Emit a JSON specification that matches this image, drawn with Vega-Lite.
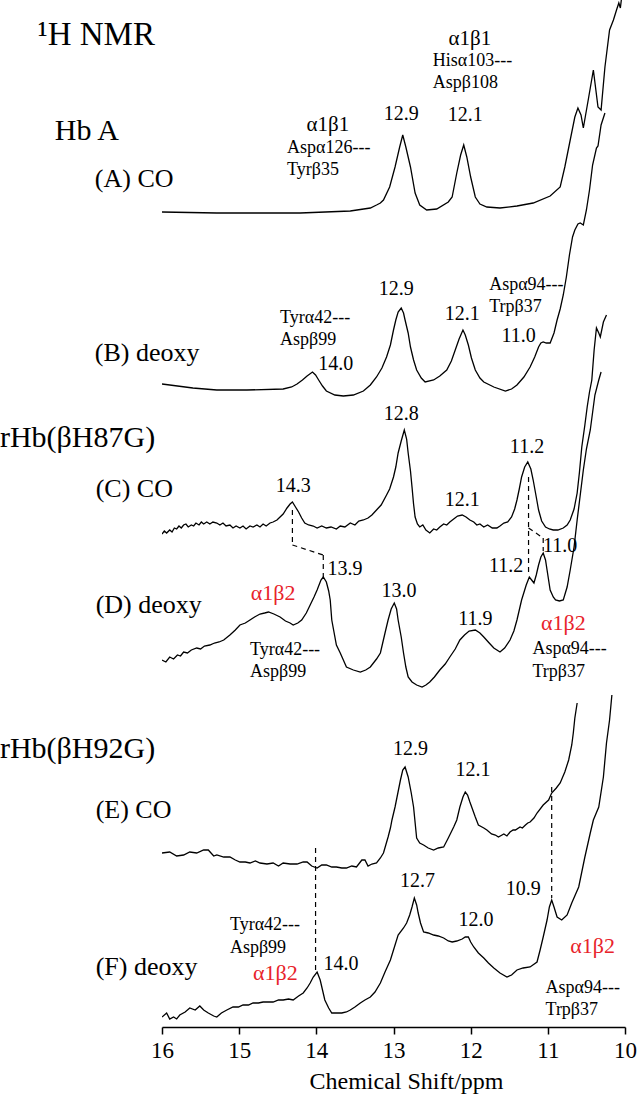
{
"$schema": "https://vega.github.io/schema/vega-lite/v6.json",
"width": 463, "height": 1027,
"autosize": "none",
"padding": {"left": 162, "top": 0, "right": 13, "bottom": 70},
"background": "white",
"config": {"view": {"stroke": null}, "font": "Liberation Serif, Times New Roman, Times, DejaVu Serif, serif"},
"datasets": {
"spectra": [
{"trace":"A","ppm":16.00,"i":815},{"trace":"A","ppm":15.29,"i":814},{"trace":"A","ppm":14.21,"i":814},{"trace":"A","ppm":13.56,"i":816},{"trace":"A","ppm":13.30,"i":819},{"trace":"A","ppm":13.22,"i":822},{"trace":"A","ppm":13.17,"i":824},{"trace":"A","ppm":13.13,"i":827},{"trace":"A","ppm":13.05,"i":840},{"trace":"A","ppm":12.98,"i":860},{"trace":"A","ppm":12.92,"i":880},{"trace":"A","ppm":12.88,"i":892},{"trace":"A","ppm":12.84,"i":880},{"trace":"A","ppm":12.78,"i":860},{"trace":"A","ppm":12.72,"i":834},{"trace":"A","ppm":12.66,"i":822},{"trace":"A","ppm":12.57,"i":817},{"trace":"A","ppm":12.44,"i":818},{"trace":"A","ppm":12.29,"i":825},{"trace":"A","ppm":12.24,"i":830},{"trace":"A","ppm":12.18,"i":854},{"trace":"A","ppm":12.13,"i":872},{"trace":"A","ppm":12.09,"i":882},{"trace":"A","ppm":12.05,"i":870},{"trace":"A","ppm":12.00,"i":850},{"trace":"A","ppm":11.94,"i":830},{"trace":"A","ppm":11.88,"i":823},{"trace":"A","ppm":11.79,"i":820},{"trace":"A","ppm":11.62,"i":819},{"trace":"A","ppm":11.40,"i":821},{"trace":"A","ppm":11.19,"i":824},{"trace":"A","ppm":10.97,"i":831},{"trace":"A","ppm":10.84,"i":840},{"trace":"A","ppm":10.78,"i":860},{"trace":"A","ppm":10.71,"i":887},{"trace":"A","ppm":10.65,"i":910},{"trace":"A","ppm":10.61,"i":919},{"trace":"A","ppm":10.57,"i":912},{"trace":"A","ppm":10.54,"i":899},{"trace":"A","ppm":10.47,"i":930},{"trace":"A","ppm":10.41,"i":957},{"trace":"A","ppm":10.35,"i":920},{"trace":"A","ppm":10.31,"i":917},{"trace":"A","ppm":10.26,"i":960},{"trace":"A","ppm":10.20,"i":997},{"trace":"A","ppm":10.15,"i":1007},{"trace":"A","ppm":10.11,"i":1017},{"trace":"A","ppm":10.08,"i":1024},{"trace":"A","ppm":10.06,"i":1019},{"trace":"A","ppm":10.04,"i":1032},

{"trace":"B","ppm":16.00,"i":643},{"trace":"B","ppm":15.60,"i":639},{"trace":"B","ppm":15.29,"i":637},{"trace":"B","ppm":14.90,"i":637},{"trace":"B","ppm":14.43,"i":638},{"trace":"B","ppm":14.32,"i":640},{"trace":"B","ppm":14.25,"i":643},{"trace":"B","ppm":14.18,"i":647},{"trace":"B","ppm":14.12,"i":651},{"trace":"B","ppm":14.05,"i":655},{"trace":"B","ppm":14.01,"i":652},{"trace":"B","ppm":13.97,"i":647},{"trace":"B","ppm":13.92,"i":641},{"trace":"B","ppm":13.87,"i":636},{"trace":"B","ppm":13.76,"i":632},{"trace":"B","ppm":13.65,"i":631},{"trace":"B","ppm":13.52,"i":632},{"trace":"B","ppm":13.39,"i":636},{"trace":"B","ppm":13.30,"i":642},{"trace":"B","ppm":13.22,"i":650},{"trace":"B","ppm":13.15,"i":659},{"trace":"B","ppm":13.09,"i":670},{"trace":"B","ppm":13.04,"i":682},{"trace":"B","ppm":13.00,"i":697},{"trace":"B","ppm":12.97,"i":707},{"trace":"B","ppm":12.94,"i":715},{"trace":"B","ppm":12.90,"i":719},{"trace":"B","ppm":12.87,"i":714},{"trace":"B","ppm":12.85,"i":707},{"trace":"B","ppm":12.81,"i":694},{"trace":"B","ppm":12.78,"i":680},{"trace":"B","ppm":12.74,"i":667},{"trace":"B","ppm":12.70,"i":657},{"trace":"B","ppm":12.64,"i":649},{"trace":"B","ppm":12.59,"i":645},{"trace":"B","ppm":12.48,"i":647},{"trace":"B","ppm":12.40,"i":651},{"trace":"B","ppm":12.31,"i":657},{"trace":"B","ppm":12.25,"i":666},{"trace":"B","ppm":12.20,"i":677},{"trace":"B","ppm":12.15,"i":688},{"trace":"B","ppm":12.10,"i":697},{"trace":"B","ppm":12.07,"i":692},{"trace":"B","ppm":12.03,"i":682},{"trace":"B","ppm":11.99,"i":669},{"trace":"B","ppm":11.94,"i":657},{"trace":"B","ppm":11.88,"i":649},{"trace":"B","ppm":11.83,"i":645},{"trace":"B","ppm":11.70,"i":640},{"trace":"B","ppm":11.55,"i":636},{"trace":"B","ppm":11.47,"i":638},{"trace":"B","ppm":11.40,"i":642},{"trace":"B","ppm":11.31,"i":650},{"trace":"B","ppm":11.23,"i":660},{"trace":"B","ppm":11.17,"i":670},{"trace":"B","ppm":11.12,"i":680},{"trace":"B","ppm":11.09,"i":684},{"trace":"B","ppm":11.06,"i":685},{"trace":"B","ppm":11.02,"i":684},{"trace":"B","ppm":10.97,"i":684},{"trace":"B","ppm":10.92,"i":694},{"trace":"B","ppm":10.88,"i":707},{"trace":"B","ppm":10.84,"i":718},{"trace":"B","ppm":10.80,"i":732},{"trace":"B","ppm":10.76,"i":750},{"trace":"B","ppm":10.72,"i":772},{"trace":"B","ppm":10.68,"i":790},{"trace":"B","ppm":10.65,"i":797},{"trace":"B","ppm":10.61,"i":803},{"trace":"B","ppm":10.58,"i":804},{"trace":"B","ppm":10.54,"i":802},{"trace":"B","ppm":10.50,"i":817},{"trace":"B","ppm":10.46,"i":837},{"trace":"B","ppm":10.42,"i":862},{"trace":"B","ppm":10.37,"i":879},{"trace":"B","ppm":10.35,"i":881},{"trace":"B","ppm":10.31,"i":902},{"trace":"B","ppm":10.26,"i":914},

{"trace":"C","ppm":16.00,"i":493},{"trace":"C","ppm":15.97,"i":496},{"trace":"C","ppm":15.94,"i":494},{"trace":"C","ppm":15.90,"i":497},{"trace":"C","ppm":15.87,"i":495},{"trace":"C","ppm":15.84,"i":499},{"trace":"C","ppm":15.81,"i":498},{"trace":"C","ppm":15.78,"i":501},{"trace":"C","ppm":15.75,"i":499},{"trace":"C","ppm":15.72,"i":502},{"trace":"C","ppm":15.69,"i":503},{"trace":"C","ppm":15.66,"i":500},{"trace":"C","ppm":15.62,"i":502},{"trace":"C","ppm":15.59,"i":501},{"trace":"C","ppm":15.56,"i":504},{"trace":"C","ppm":15.52,"i":502},{"trace":"C","ppm":15.49,"i":505},{"trace":"C","ppm":15.46,"i":503},{"trace":"C","ppm":15.42,"i":505},{"trace":"C","ppm":15.38,"i":503},{"trace":"C","ppm":15.34,"i":505},{"trace":"C","ppm":15.29,"i":504},{"trace":"C","ppm":15.25,"i":502},{"trace":"C","ppm":15.21,"i":504},{"trace":"C","ppm":15.17,"i":501},{"trace":"C","ppm":15.12,"i":502},{"trace":"C","ppm":15.08,"i":499},{"trace":"C","ppm":15.04,"i":501},{"trace":"C","ppm":14.99,"i":499},{"trace":"C","ppm":14.95,"i":501},{"trace":"C","ppm":14.91,"i":498},{"trace":"C","ppm":14.86,"i":501},{"trace":"C","ppm":14.82,"i":500},{"trace":"C","ppm":14.77,"i":502},{"trace":"C","ppm":14.73,"i":500},{"trace":"C","ppm":14.69,"i":503},{"trace":"C","ppm":14.65,"i":501},{"trace":"C","ppm":14.60,"i":504},{"trace":"C","ppm":14.56,"i":505},{"trace":"C","ppm":14.51,"i":507},{"trace":"C","ppm":14.47,"i":510},{"trace":"C","ppm":14.43,"i":513},{"trace":"C","ppm":14.38,"i":519},{"trace":"C","ppm":14.34,"i":523},{"trace":"C","ppm":14.31,"i":525},{"trace":"C","ppm":14.27,"i":520},{"trace":"C","ppm":14.23,"i":515},{"trace":"C","ppm":14.19,"i":509},{"trace":"C","ppm":14.15,"i":504},{"trace":"C","ppm":14.10,"i":502},{"trace":"C","ppm":14.04,"i":501},{"trace":"C","ppm":13.99,"i":499},{"trace":"C","ppm":13.93,"i":501},{"trace":"C","ppm":13.87,"i":499},{"trace":"C","ppm":13.81,"i":500},{"trace":"C","ppm":13.74,"i":498},{"trace":"C","ppm":13.69,"i":501},{"trace":"C","ppm":13.63,"i":500},{"trace":"C","ppm":13.56,"i":504},{"trace":"C","ppm":13.50,"i":502},{"trace":"C","ppm":13.45,"i":506},{"trace":"C","ppm":13.39,"i":507},{"trace":"C","ppm":13.33,"i":509},{"trace":"C","ppm":13.28,"i":512},{"trace":"C","ppm":13.22,"i":517},{"trace":"C","ppm":13.16,"i":522},{"trace":"C","ppm":13.09,"i":532},{"trace":"C","ppm":13.05,"i":538},{"trace":"C","ppm":13.00,"i":550},{"trace":"C","ppm":12.97,"i":560},{"trace":"C","ppm":12.94,"i":574},{"trace":"C","ppm":12.90,"i":586},{"trace":"C","ppm":12.86,"i":597},{"trace":"C","ppm":12.83,"i":588},{"trace":"C","ppm":12.81,"i":574},{"trace":"C","ppm":12.78,"i":556},{"trace":"C","ppm":12.76,"i":540},{"trace":"C","ppm":12.74,"i":523},{"trace":"C","ppm":12.72,"i":510},{"trace":"C","ppm":12.69,"i":503},{"trace":"C","ppm":12.66,"i":500},{"trace":"C","ppm":12.62,"i":502},{"trace":"C","ppm":12.58,"i":497},{"trace":"C","ppm":12.53,"i":494},{"trace":"C","ppm":12.48,"i":498},{"trace":"C","ppm":12.44,"i":497},{"trace":"C","ppm":12.40,"i":500},{"trace":"C","ppm":12.35,"i":503},{"trace":"C","ppm":12.31,"i":502},{"trace":"C","ppm":12.27,"i":505},{"trace":"C","ppm":12.22,"i":508},{"trace":"C","ppm":12.17,"i":511},{"trace":"C","ppm":12.11,"i":512},{"trace":"C","ppm":12.06,"i":510},{"trace":"C","ppm":12.01,"i":507},{"trace":"C","ppm":11.96,"i":505},{"trace":"C","ppm":11.92,"i":502},{"trace":"C","ppm":11.88,"i":503},{"trace":"C","ppm":11.83,"i":500},{"trace":"C","ppm":11.78,"i":502},{"trace":"C","ppm":11.72,"i":499},{"trace":"C","ppm":11.66,"i":499},{"trace":"C","ppm":11.62,"i":501},{"trace":"C","ppm":11.57,"i":504},{"trace":"C","ppm":11.52,"i":505},{"trace":"C","ppm":11.47,"i":510},{"trace":"C","ppm":11.43,"i":518},{"trace":"C","ppm":11.40,"i":527},{"trace":"C","ppm":11.37,"i":538},{"trace":"C","ppm":11.34,"i":550},{"trace":"C","ppm":11.30,"i":560},{"trace":"C","ppm":11.26,"i":565},{"trace":"C","ppm":11.22,"i":558},{"trace":"C","ppm":11.19,"i":547},{"trace":"C","ppm":11.15,"i":530},{"trace":"C","ppm":11.12,"i":517},{"trace":"C","ppm":11.08,"i":506},{"trace":"C","ppm":11.03,"i":500},{"trace":"C","ppm":10.98,"i":498},{"trace":"C","ppm":10.93,"i":497},{"trace":"C","ppm":10.87,"i":497},{"trace":"C","ppm":10.80,"i":499},{"trace":"C","ppm":10.75,"i":502},{"trace":"C","ppm":10.71,"i":507},{"trace":"C","ppm":10.66,"i":518},{"trace":"C","ppm":10.62,"i":534},{"trace":"C","ppm":10.59,"i":555},{"trace":"C","ppm":10.56,"i":580},{"trace":"C","ppm":10.52,"i":602},{"trace":"C","ppm":10.49,"i":620},{"trace":"C","ppm":10.46,"i":635},{"trace":"C","ppm":10.43,"i":647},{"trace":"C","ppm":10.40,"i":677},{"trace":"C","ppm":10.37,"i":699},{"trace":"C","ppm":10.34,"i":694},{"trace":"C","ppm":10.32,"i":690},{"trace":"C","ppm":10.28,"i":705},{"trace":"C","ppm":10.24,"i":712},

{"trace":"D","ppm":16.00,"i":367},{"trace":"D","ppm":15.95,"i":365},{"trace":"D","ppm":15.90,"i":370},{"trace":"D","ppm":15.85,"i":368},{"trace":"D","ppm":15.80,"i":372},{"trace":"D","ppm":15.76,"i":371},{"trace":"D","ppm":15.72,"i":375},{"trace":"D","ppm":15.67,"i":374},{"trace":"D","ppm":15.62,"i":377},{"trace":"D","ppm":15.55,"i":379},{"trace":"D","ppm":15.50,"i":378},{"trace":"D","ppm":15.45,"i":381},{"trace":"D","ppm":15.38,"i":382},{"trace":"D","ppm":15.32,"i":384},{"trace":"D","ppm":15.26,"i":385},{"trace":"D","ppm":15.20,"i":387},{"trace":"D","ppm":15.12,"i":392},{"trace":"D","ppm":15.05,"i":397},{"trace":"D","ppm":14.99,"i":402},{"trace":"D","ppm":14.92,"i":404},{"trace":"D","ppm":14.86,"i":407},{"trace":"D","ppm":14.80,"i":410},{"trace":"D","ppm":14.73,"i":413},{"trace":"D","ppm":14.67,"i":414},{"trace":"D","ppm":14.62,"i":415},{"trace":"D","ppm":14.55,"i":413},{"trace":"D","ppm":14.47,"i":410},{"trace":"D","ppm":14.40,"i":406},{"trace":"D","ppm":14.34,"i":404},{"trace":"D","ppm":14.30,"i":402},{"trace":"D","ppm":14.24,"i":404},{"trace":"D","ppm":14.19,"i":407},{"trace":"D","ppm":14.13,"i":414},{"trace":"D","ppm":14.08,"i":422},{"trace":"D","ppm":14.03,"i":430},{"trace":"D","ppm":13.99,"i":437},{"trace":"D","ppm":13.94,"i":447},{"trace":"D","ppm":13.91,"i":450},{"trace":"D","ppm":13.87,"i":445},{"trace":"D","ppm":13.84,"i":436},{"trace":"D","ppm":13.82,"i":427},{"trace":"D","ppm":13.80,"i":407},{"trace":"D","ppm":13.74,"i":382},{"trace":"D","ppm":13.69,"i":374},{"trace":"D","ppm":13.61,"i":360},{"trace":"D","ppm":13.52,"i":357},{"trace":"D","ppm":13.43,"i":355},{"trace":"D","ppm":13.36,"i":357},{"trace":"D","ppm":13.30,"i":360},{"trace":"D","ppm":13.22,"i":368},{"trace":"D","ppm":13.17,"i":374},{"trace":"D","ppm":13.11,"i":394},{"trace":"D","ppm":13.07,"i":407},{"trace":"D","ppm":13.03,"i":418},{"trace":"D","ppm":12.99,"i":424},{"trace":"D","ppm":12.96,"i":418},{"trace":"D","ppm":12.94,"i":407},{"trace":"D","ppm":12.90,"i":390},{"trace":"D","ppm":12.87,"i":374},{"trace":"D","ppm":12.84,"i":360},{"trace":"D","ppm":12.81,"i":350},{"trace":"D","ppm":12.76,"i":345},{"trace":"D","ppm":12.70,"i":342},{"trace":"D","ppm":12.63,"i":340},{"trace":"D","ppm":12.58,"i":342},{"trace":"D","ppm":12.53,"i":345},{"trace":"D","ppm":12.47,"i":350},{"trace":"D","ppm":12.40,"i":357},{"trace":"D","ppm":12.33,"i":363},{"trace":"D","ppm":12.27,"i":370},{"trace":"D","ppm":12.20,"i":378},{"trace":"D","ppm":12.14,"i":387},{"trace":"D","ppm":12.08,"i":392},{"trace":"D","ppm":12.02,"i":396},{"trace":"D","ppm":11.94,"i":397},{"trace":"D","ppm":11.88,"i":394},{"trace":"D","ppm":11.83,"i":390},{"trace":"D","ppm":11.76,"i":384},{"trace":"D","ppm":11.70,"i":379},{"trace":"D","ppm":11.62,"i":375},{"trace":"D","ppm":11.56,"i":379},{"trace":"D","ppm":11.49,"i":387},{"trace":"D","ppm":11.44,"i":396},{"trace":"D","ppm":11.40,"i":407},{"trace":"D","ppm":11.34,"i":427},{"trace":"D","ppm":11.28,"i":442},{"trace":"D","ppm":11.24,"i":450},{"trace":"D","ppm":11.21,"i":447},{"trace":"D","ppm":11.18,"i":444},{"trace":"D","ppm":11.15,"i":452},{"trace":"D","ppm":11.12,"i":462},{"trace":"D","ppm":11.09,"i":470},{"trace":"D","ppm":11.06,"i":474},{"trace":"D","ppm":11.03,"i":467},{"trace":"D","ppm":11.01,"i":457},{"trace":"D","ppm":10.97,"i":437},{"trace":"D","ppm":10.93,"i":430},{"trace":"D","ppm":10.90,"i":427},{"trace":"D","ppm":10.85,"i":426},{"trace":"D","ppm":10.80,"i":427},{"trace":"D","ppm":10.75,"i":440},{"trace":"D","ppm":10.71,"i":457},{"trace":"D","ppm":10.66,"i":480},{"trace":"D","ppm":10.62,"i":507},{"trace":"D","ppm":10.58,"i":532},{"trace":"D","ppm":10.54,"i":557},{"trace":"D","ppm":10.50,"i":578},{"trace":"D","ppm":10.45,"i":597},{"trace":"D","ppm":10.39,"i":632},{"trace":"D","ppm":10.34,"i":647},{"trace":"D","ppm":10.31,"i":655},

{"trace":"E","ppm":16.00,"i":174},{"trace":"E","ppm":15.90,"i":175},{"trace":"E","ppm":15.81,"i":171},{"trace":"E","ppm":15.72,"i":172},{"trace":"E","ppm":15.64,"i":175},{"trace":"E","ppm":15.55,"i":174},{"trace":"E","ppm":15.46,"i":177},{"trace":"E","ppm":15.40,"i":177},{"trace":"E","ppm":15.33,"i":171},{"trace":"E","ppm":15.29,"i":172},{"trace":"E","ppm":15.20,"i":170},{"trace":"E","ppm":15.12,"i":170},{"trace":"E","ppm":15.05,"i":167},{"trace":"E","ppm":14.99,"i":165},{"trace":"E","ppm":14.92,"i":165},{"trace":"E","ppm":14.86,"i":164},{"trace":"E","ppm":14.79,"i":166},{"trace":"E","ppm":14.73,"i":164},{"trace":"E","ppm":14.64,"i":163},{"trace":"E","ppm":14.56,"i":164},{"trace":"E","ppm":14.49,"i":161},{"trace":"E","ppm":14.43,"i":164},{"trace":"E","ppm":14.34,"i":163},{"trace":"E","ppm":14.25,"i":163},{"trace":"E","ppm":14.17,"i":165},{"trace":"E","ppm":14.12,"i":165},{"trace":"E","ppm":14.06,"i":161},{"trace":"E","ppm":13.99,"i":159},{"trace":"E","ppm":13.93,"i":162},{"trace":"E","ppm":13.87,"i":162},{"trace":"E","ppm":13.80,"i":160},{"trace":"E","ppm":13.74,"i":160},{"trace":"E","ppm":13.67,"i":159},{"trace":"E","ppm":13.61,"i":159},{"trace":"E","ppm":13.54,"i":161},{"trace":"E","ppm":13.48,"i":160},{"trace":"E","ppm":13.41,"i":167},{"trace":"E","ppm":13.37,"i":167},{"trace":"E","ppm":13.33,"i":161},{"trace":"E","ppm":13.28,"i":163},{"trace":"E","ppm":13.22,"i":164},{"trace":"E","ppm":13.17,"i":169},{"trace":"E","ppm":13.13,"i":174},{"trace":"E","ppm":13.10,"i":182},{"trace":"E","ppm":13.07,"i":190},{"trace":"E","ppm":13.04,"i":199},{"trace":"E","ppm":13.02,"i":207},{"trace":"E","ppm":12.98,"i":220},{"trace":"E","ppm":12.91,"i":247},{"trace":"E","ppm":12.88,"i":257},{"trace":"E","ppm":12.85,"i":260},{"trace":"E","ppm":12.81,"i":250},{"trace":"E","ppm":12.77,"i":234},{"trace":"E","ppm":12.74,"i":220},{"trace":"E","ppm":12.70,"i":189},{"trace":"E","ppm":12.66,"i":184},{"trace":"E","ppm":12.61,"i":182},{"trace":"E","ppm":12.55,"i":179},{"trace":"E","ppm":12.48,"i":177},{"trace":"E","ppm":12.42,"i":179},{"trace":"E","ppm":12.35,"i":180},{"trace":"E","ppm":12.29,"i":189},{"trace":"E","ppm":12.22,"i":200},{"trace":"E","ppm":12.18,"i":207},{"trace":"E","ppm":12.14,"i":220},{"trace":"E","ppm":12.10,"i":230},{"trace":"E","ppm":12.07,"i":235},{"trace":"E","ppm":12.04,"i":232},{"trace":"E","ppm":12.01,"i":225},{"trace":"E","ppm":11.94,"i":210},{"trace":"E","ppm":11.90,"i":202},{"trace":"E","ppm":11.83,"i":199},{"trace":"E","ppm":11.79,"i":197},{"trace":"E","ppm":11.73,"i":193},{"trace":"E","ppm":11.68,"i":192},{"trace":"E","ppm":11.64,"i":190},{"trace":"E","ppm":11.57,"i":193},{"trace":"E","ppm":11.53,"i":191},{"trace":"E","ppm":11.49,"i":195},{"trace":"E","ppm":11.45,"i":197},{"trace":"E","ppm":11.42,"i":197},{"trace":"E","ppm":11.36,"i":200},{"trace":"E","ppm":11.33,"i":199},{"trace":"E","ppm":11.29,"i":202},{"trace":"E","ppm":11.26,"i":204},{"trace":"E","ppm":11.23,"i":205},{"trace":"E","ppm":11.18,"i":209},{"trace":"E","ppm":11.14,"i":214},{"trace":"E","ppm":11.06,"i":222},{"trace":"E","ppm":10.99,"i":227},{"trace":"E","ppm":10.95,"i":234},{"trace":"E","ppm":10.89,"i":239},{"trace":"E","ppm":10.84,"i":244},{"trace":"E","ppm":10.78,"i":255},{"trace":"E","ppm":10.73,"i":267},{"trace":"E","ppm":10.69,"i":282},{"trace":"E","ppm":10.67,"i":294},{"trace":"E","ppm":10.65,"i":309},{"trace":"E","ppm":10.62,"i":324},

{"trace":"F","ppm":16.00,"i":10},{"trace":"F","ppm":15.94,"i":14},{"trace":"F","ppm":15.90,"i":8},{"trace":"F","ppm":15.85,"i":10},{"trace":"F","ppm":15.81,"i":8},{"trace":"F","ppm":15.77,"i":12},{"trace":"F","ppm":15.70,"i":15},{"trace":"F","ppm":15.64,"i":19},{"trace":"F","ppm":15.57,"i":17},{"trace":"F","ppm":15.51,"i":21},{"trace":"F","ppm":15.46,"i":17},{"trace":"F","ppm":15.40,"i":14},{"trace":"F","ppm":15.33,"i":11},{"trace":"F","ppm":15.29,"i":10},{"trace":"F","ppm":15.23,"i":14},{"trace":"F","ppm":15.16,"i":17},{"trace":"F","ppm":15.08,"i":20},{"trace":"F","ppm":15.01,"i":20},{"trace":"F","ppm":14.95,"i":22},{"trace":"F","ppm":14.88,"i":22},{"trace":"F","ppm":14.82,"i":24},{"trace":"F","ppm":14.75,"i":24},{"trace":"F","ppm":14.69,"i":25},{"trace":"F","ppm":14.62,"i":25},{"trace":"F","ppm":14.56,"i":25},{"trace":"F","ppm":14.49,"i":27},{"trace":"F","ppm":14.43,"i":27},{"trace":"F","ppm":14.36,"i":28},{"trace":"F","ppm":14.30,"i":27},{"trace":"F","ppm":14.23,"i":31},{"trace":"F","ppm":14.17,"i":34},{"trace":"F","ppm":14.12,"i":39},{"trace":"F","ppm":14.08,"i":44},{"trace":"F","ppm":14.04,"i":50},{"trace":"F","ppm":13.99,"i":55},{"trace":"F","ppm":13.95,"i":47},{"trace":"F","ppm":13.92,"i":37},{"trace":"F","ppm":13.89,"i":27},{"trace":"F","ppm":13.84,"i":19},{"trace":"F","ppm":13.80,"i":14},{"trace":"F","ppm":13.74,"i":14},{"trace":"F","ppm":13.67,"i":14},{"trace":"F","ppm":13.61,"i":15},{"trace":"F","ppm":13.56,"i":17},{"trace":"F","ppm":13.50,"i":20},{"trace":"F","ppm":13.43,"i":24},{"trace":"F","ppm":13.37,"i":27},{"trace":"F","ppm":13.30,"i":30},{"trace":"F","ppm":13.24,"i":35},{"trace":"F","ppm":13.17,"i":44},{"trace":"F","ppm":13.11,"i":55},{"trace":"F","ppm":13.04,"i":67},{"trace":"F","ppm":13.00,"i":77},{"trace":"F","ppm":12.94,"i":92},{"trace":"F","ppm":12.87,"i":99},{"trace":"F","ppm":12.83,"i":104},{"trace":"F","ppm":12.79,"i":112},{"trace":"F","ppm":12.76,"i":120},{"trace":"F","ppm":12.73,"i":129},{"trace":"F","ppm":12.70,"i":122},{"trace":"F","ppm":12.68,"i":114},{"trace":"F","ppm":12.65,"i":104},{"trace":"F","ppm":12.61,"i":95},{"trace":"F","ppm":12.55,"i":94},{"trace":"F","ppm":12.48,"i":92},{"trace":"F","ppm":12.42,"i":91},{"trace":"F","ppm":12.35,"i":89},{"trace":"F","ppm":12.29,"i":86},{"trace":"F","ppm":12.24,"i":85},{"trace":"F","ppm":12.18,"i":86},{"trace":"F","ppm":12.11,"i":88},{"trace":"F","ppm":12.07,"i":90},{"trace":"F","ppm":12.03,"i":90},{"trace":"F","ppm":12.00,"i":85},{"trace":"F","ppm":11.96,"i":80},{"trace":"F","ppm":11.90,"i":74},{"trace":"F","ppm":11.83,"i":69},{"trace":"F","ppm":11.77,"i":64},{"trace":"F","ppm":11.70,"i":59},{"trace":"F","ppm":11.62,"i":54},{"trace":"F","ppm":11.53,"i":50},{"trace":"F","ppm":11.47,"i":52},{"trace":"F","ppm":11.40,"i":57},{"trace":"F","ppm":11.32,"i":59},{"trace":"F","ppm":11.23,"i":60},{"trace":"F","ppm":11.14,"i":65},{"trace":"F","ppm":11.10,"i":77},{"trace":"F","ppm":11.06,"i":90},{"trace":"F","ppm":11.01,"i":107},{"trace":"F","ppm":10.98,"i":120},{"trace":"F","ppm":10.95,"i":127},{"trace":"F","ppm":10.92,"i":120},{"trace":"F","ppm":10.88,"i":110},{"trace":"F","ppm":10.82,"i":107},{"trace":"F","ppm":10.75,"i":112},{"trace":"F","ppm":10.69,"i":124},{"trace":"F","ppm":10.60,"i":140},{"trace":"F","ppm":10.52,"i":170},{"trace":"F","ppm":10.45,"i":194},{"trace":"F","ppm":10.41,"i":207},{"trace":"F","ppm":10.34,"i":220},{"trace":"F","ppm":10.28,"i":250},{"trace":"F","ppm":10.24,"i":284},{"trace":"F","ppm":10.20,"i":307},{"trace":"F","ppm":10.17,"i":332}
],
"dashes": [
{"ppm":14.31,"y":517,"ppm2":14.31,"y2":482},
{"ppm":14.31,"y":482,"ppm2":13.91,"y2":472},
{"ppm":13.91,"y":472,"ppm2":13.91,"y2":450},
{"ppm":11.25,"y":550,"ppm2":11.25,"y2":451},
{"ppm":11.25,"y":499,"ppm2":11.06,"y2":489},
{"ppm":11.06,"y":489,"ppm2":11.06,"y2":476},
{"ppm":14.01,"y":179,"ppm2":14.01,"y2":57},
{"ppm":10.95,"y":240,"ppm2":10.95,"y2":129}
],
"labels": [
{"kind":"title","text":"¹H NMR","ppm":17.61,"y":982},
{"kind":"group","text":"Hb A","ppm":17.39,"y":887},
{"kind":"group","text":"rHb(βH87G)","ppm":18.10,"y":580},
{"kind":"group","text":"rHb(βH92G)","ppm":18.10,"y":269},
{"kind":"panel","text":"(A)  CO","ppm":16.87,"y":840},
{"kind":"panel","text":"(B)  deoxy","ppm":16.87,"y":666},
{"kind":"panel","text":"(C)  CO","ppm":16.86,"y":530},
{"kind":"panel","text":"(D)  deoxy","ppm":16.86,"y":414},
{"kind":"panel","text":"(E)  CO","ppm":16.86,"y":209},
{"kind":"panel","text":"(F)  deoxy","ppm":16.86,"y":52},
{"kind":"shift","text":"12.9","ppm":12.90,"y":907},
{"kind":"shift","text":"12.1","ppm":12.07,"y":906},
{"kind":"shift","text":"12.9","ppm":12.965,"y":732},
{"kind":"shift","text":"14.0","ppm":13.75,"y":657},
{"kind":"shift","text":"12.1","ppm":12.11,"y":707},
{"kind":"shift","text":"11.0","ppm":11.38,"y":685},
{"kind":"shift","text":"14.3","ppm":14.30,"y":535},
{"kind":"shift","text":"12.8","ppm":12.90,"y":607},
{"kind":"shift","text":"12.1","ppm":12.11,"y":521},
{"kind":"shift","text":"11.2","ppm":11.27,"y":574},
{"kind":"shift","text":"13.9","ppm":13.63,"y":452},
{"kind":"shift","text":"13.0","ppm":12.93,"y":430},
{"kind":"shift","text":"11.9","ppm":11.94,"y":402},
{"kind":"shift","text":"11.2","ppm":11.54,"y":455},
{"kind":"shift","text":"11.0","ppm":10.84,"y":475},
{"kind":"shift","text":"12.9","ppm":12.78,"y":272},
{"kind":"shift","text":"12.1","ppm":11.97,"y":251},
{"kind":"shift","text":"12.7","ppm":12.69,"y":140},
{"kind":"shift","text":"12.0","ppm":11.93,"y":101},
{"kind":"shift","text":"10.9","ppm":11.32,"y":132},
{"kind":"shift","text":"14.0","ppm":13.68,"y":57},
{"kind":"site","text":"α1β1","ppm":13.85,"y":896},
{"kind":"site","text":"α1β1","ppm":12.01,"y":982},
{"kind":"interface","text":"α1β2","ppm":14.56,"y":427},
{"kind":"interface","text":"α1β2","ppm":10.80,"y":397},
{"kind":"interface","text":"α1β2","ppm":14.53,"y":47},
{"kind":"interface","text":"α1β2","ppm":10.42,"y":74},
{"kind":"pair","text":"Aspα126---","ppm":14.38,"y":874},
{"kind":"pair","text":"Tyrβ35","ppm":14.38,"y":852},
{"kind":"pair","text":"Hisα103---","ppm":12.49,"y":961},
{"kind":"pair","text":"Aspβ108","ppm":12.49,"y":939},
{"kind":"pair","text":"Tyrα42---","ppm":14.47,"y":704},
{"kind":"pair","text":"Aspβ99","ppm":14.47,"y":682},
{"kind":"pair","text":"Aspα94---","ppm":11.76,"y":737},
{"kind":"pair","text":"Trpβ37","ppm":11.76,"y":715},
{"kind":"pair","text":"Tyrα42---","ppm":14.86,"y":372},
{"kind":"pair","text":"Aspβ99","ppm":14.86,"y":350},
{"kind":"pair","text":"Aspα94---","ppm":11.20,"y":373},
{"kind":"pair","text":"Trpβ37","ppm":11.20,"y":350},
{"kind":"pair","text":"Tyrα42---","ppm":15.12,"y":97},
{"kind":"pair","text":"Aspβ99","ppm":15.12,"y":74},
{"kind":"pair","text":"Aspα94---","ppm":11.03,"y":34},
{"kind":"pair","text":"Trpβ37","ppm":11.03,"y":12}
]
},
"layer": [
{
"data": {"name": "spectra"},
"mark": {"type": "line", "color": "black", "strokeWidth": 1.3, "clip": true},
"encoding": {
"x": {"field": "ppm", "type": "quantitative",
"scale": {"domain": [10, 16], "reverse": true, "nice": false, "zero": false},
"axis": {"values": [10,10.5,11,11.5,12,12.5,13,13.5,14,14.5,15,15.5,16],
"format": "d",
"labelExpr": "datum.value % 1 === 0 ? datum.label : ''",
"grid": false, "domainColor": "black", "domainWidth": 1.5,
"tickColor": "black", "tickWidth": 1.5,
"tickSize": {"condition": {"test": "datum.value % 1 === 0", "value": 7}, "value": 5},
"labelFont": "Liberation Serif, Times New Roman, Times, DejaVu Serif, serif", "labelFontSize": 23, "labelColor": "black", "labelPadding": 5,
"labelFlush": false, "labelOverlap": false,
"title": "Chemical Shift/ppm", "titleFont": "Liberation Serif, Times New Roman, Times, DejaVu Serif, serif", "titleFontSize": 24,
"titleFontWeight": "normal", "titleColor": "black",
"titleX": 244, "titleY": 61, "titleBaseline": "alphabetic", "titleAlign": "center"}},
"y": {"field": "i", "type": "quantitative", "scale": {"domain": [0, 1027], "nice": false, "zero": false}, "axis": null},
"detail": {"field": "trace"}
}
},
{
"data": {"name": "dashes"},
"mark": {"type": "rule", "color": "black", "strokeWidth": 1.2, "strokeDash": [5, 4]},
"encoding": {
"x": {"field": "ppm", "type": "quantitative"},
"y": {"field": "y", "type": "quantitative"},
"x2": {"field": "ppm2"},
"y2": {"field": "y2"}
}
},
{
"data": {"name": "labels"},
"transform": [{"filter": "datum.kind === 'title'"}],
"mark": {"type": "text", "font": "Liberation Serif, Times New Roman, Times, DejaVu Serif, serif", "fontSize": 33, "align": "left", "baseline": "alphabetic", "color": "black"},
"encoding": {"x": {"field": "ppm", "type": "quantitative"}, "y": {"field": "y", "type": "quantitative"}, "text": {"field": "text"}}
},
{
"data": {"name": "labels"},
"transform": [{"filter": "datum.kind === 'group'"}],
"mark": {"type": "text", "font": "Liberation Serif, Times New Roman, Times, DejaVu Serif, serif", "fontSize": 30, "align": "left", "baseline": "alphabetic", "color": "black"},
"encoding": {"x": {"field": "ppm", "type": "quantitative"}, "y": {"field": "y", "type": "quantitative"}, "text": {"field": "text"}}
},
{
"data": {"name": "labels"},
"transform": [{"filter": "datum.kind === 'panel'"}],
"mark": {"type": "text", "font": "Liberation Serif, Times New Roman, Times, DejaVu Serif, serif", "fontSize": 26, "align": "left", "baseline": "alphabetic", "color": "black"},
"encoding": {"x": {"field": "ppm", "type": "quantitative"}, "y": {"field": "y", "type": "quantitative"}, "text": {"field": "text"}}
},
{
"data": {"name": "labels"},
"transform": [{"filter": "datum.kind === 'shift'"}],
"mark": {"type": "text", "font": "Liberation Serif, Times New Roman, Times, DejaVu Serif, serif", "fontSize": 20, "align": "center", "baseline": "alphabetic", "color": "black"},
"encoding": {"x": {"field": "ppm", "type": "quantitative"}, "y": {"field": "y", "type": "quantitative"}, "text": {"field": "text"}}
},
{
"data": {"name": "labels"},
"transform": [{"filter": "datum.kind === 'site'"}],
"mark": {"type": "text", "font": "Liberation Serif, Times New Roman, Times, DejaVu Serif, serif", "fontSize": 21, "align": "center", "baseline": "alphabetic", "color": "black"},
"encoding": {"x": {"field": "ppm", "type": "quantitative"}, "y": {"field": "y", "type": "quantitative"}, "text": {"field": "text"}}
},
{
"data": {"name": "labels"},
"transform": [{"filter": "datum.kind === 'interface'"}],
"mark": {"type": "text", "font": "Liberation Serif, Times New Roman, Times, DejaVu Serif, serif", "fontSize": 22, "align": "center", "baseline": "alphabetic", "color": "#e8232b"},
"encoding": {"x": {"field": "ppm", "type": "quantitative"}, "y": {"field": "y", "type": "quantitative"}, "text": {"field": "text"}}
},
{
"data": {"name": "labels"},
"transform": [{"filter": "datum.kind === 'pair'"}],
"mark": {"type": "text", "font": "Liberation Serif, Times New Roman, Times, DejaVu Serif, serif", "fontSize": 18, "align": "left", "baseline": "alphabetic", "color": "black"},
"encoding": {"x": {"field": "ppm", "type": "quantitative"}, "y": {"field": "y", "type": "quantitative"}, "text": {"field": "text"}}
}
]
}
